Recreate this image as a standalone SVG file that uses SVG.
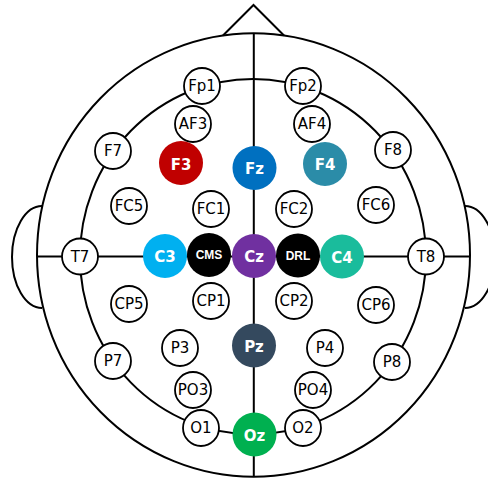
<svg xmlns="http://www.w3.org/2000/svg" width="488" height="482" viewBox="0 0 488 482">
<style>
.ln{fill:none;stroke:#000;stroke-width:2}
.e circle{fill:#fff;stroke:#000;stroke-width:1.8}
.e text{font-family:"DejaVu Sans",sans-serif;font-size:15px;fill:#000;text-anchor:middle}
.c circle{stroke:none}
.c text{font-family:"DejaVu Sans",sans-serif;font-size:15px;font-weight:bold;fill:#fff;text-anchor:middle}
.s text{font-family:"Liberation Sans",Arial,sans-serif;font-size:12px;font-weight:bold;fill:#fff;text-anchor:middle}
</style>
<rect width="488" height="482" fill="#fff"/>
<g id="head">
<ellipse class="ln" cx="253.5" cy="255" rx="216.5" ry="221.7"/>
<polyline class="ln" points="223,35.5 253.5,5 284,35.5"/>
<path class="ln" d="M42,206 A30,51 0 0 0 42,308"/>
<path class="ln" d="M465,206 A30,51 0 0 1 465,308"/>
</g>
<g id="connectors">
<ellipse class="ln" cx="253" cy="256.7" rx="173" ry="177.7"/>
<line class="ln" x1="253.8" y1="33.3" x2="253.8" y2="476.7"/>
<line class="ln" x1="37" y1="256.5" x2="470" y2="256.5"/>
</g>
<g class="e">
<g id="Fp1"><circle cx="202" cy="86" r="18"/><text x="202" y="91.3">Fp1</text></g>
<g id="Fp2"><circle cx="303" cy="86" r="18"/><text x="303" y="91.3">Fp2</text></g>
<g id="AF3"><circle cx="193" cy="124" r="18"/><text x="193" y="129.3">AF3</text></g>
<g id="AF4"><circle cx="312" cy="124" r="18"/><text x="312" y="129.3">AF4</text></g>
<g id="F7"><circle cx="113" cy="151" r="18"/><text x="113" y="156.3">F7</text></g>
<g id="F8"><circle cx="393" cy="150" r="18"/><text x="393" y="155.3">F8</text></g>
<g id="FC5"><circle cx="129" cy="206" r="18"/><text x="129" y="211.3">FC5</text></g>
<g id="FC1"><circle cx="211" cy="209" r="18"/><text x="211" y="214.3">FC1</text></g>
<g id="FC2"><circle cx="294" cy="209" r="18"/><text x="294" y="214.3">FC2</text></g>
<g id="FC6"><circle cx="376" cy="205" r="18"/><text x="376" y="210.3">FC6</text></g>
<g id="T7"><circle cx="80" cy="256.5" r="18"/><text x="80" y="261.8">T7</text></g>
<g id="T8"><circle cx="426" cy="256.5" r="18"/><text x="426" y="261.8">T8</text></g>
<g id="CP5"><circle cx="129" cy="304" r="18"/><text x="129" y="309.3">CP5</text></g>
<g id="CP1"><circle cx="211" cy="301" r="18"/><text x="211" y="306.3">CP1</text></g>
<g id="CP2"><circle cx="294" cy="301" r="18"/><text x="294" y="306.3">CP2</text></g>
<g id="CP6"><circle cx="376" cy="305" r="18"/><text x="376" y="310.3">CP6</text></g>
<g id="P7"><circle cx="113" cy="361" r="18"/><text x="113" y="366.3">P7</text></g>
<g id="P3"><circle cx="180" cy="348" r="18"/><text x="180" y="353.3">P3</text></g>
<g id="P4"><circle cx="325" cy="348" r="18"/><text x="325" y="353.3">P4</text></g>
<g id="P8"><circle cx="392" cy="362" r="18"/><text x="392" y="367.3">P8</text></g>
<g id="PO3"><circle cx="193" cy="390" r="18"/><text x="193" y="395.3">PO3</text></g>
<g id="PO4"><circle cx="313" cy="390" r="18"/><text x="313" y="395.3">PO4</text></g>
<g id="O1"><circle cx="201" cy="428" r="18"/><text x="201" y="433.3">O1</text></g>
<g id="O2"><circle cx="303" cy="428" r="18"/><text x="303" y="433.3">O2</text></g>
</g>
<g class="c">
<g id="F3"><circle cx="181" cy="163" r="22" fill="#C00000"/><text x="181" y="169.5">F3</text></g>
<g id="Fz"><circle cx="254.5" cy="168" r="22" fill="#0070C0"/><text x="254.5" y="174">Fz</text></g>
<g id="F4"><circle cx="325" cy="164" r="22" fill="#2B8CA8"/><text x="325" y="170">F4</text></g>
<g id="C3"><circle cx="165" cy="256" r="22" fill="#00B0F0"/><text x="165" y="262">C3</text></g>
<g id="Cz"><circle cx="254" cy="256" r="22" fill="#7030A0"/><text x="254" y="262">Cz</text></g>
<g id="C4"><circle cx="342" cy="256.5" r="22" fill="#1ABC9C"/><text x="342" y="262.5">C4</text></g>
<g id="Pz"><circle cx="254" cy="345.5" r="22" fill="#34495E"/><text x="254" y="351.5">Pz</text></g>
<g id="Oz"><circle cx="254.5" cy="434.5" r="22" fill="#00B050"/><text x="254.5" y="440.5">Oz</text></g>
</g>
<g class="s">
<g id="CMS"><circle cx="209" cy="255" r="22" fill="#000"/><text x="209" y="259.3">CMS</text></g>
<g id="DRL"><circle cx="298" cy="255.5" r="22" fill="#000"/><text x="298" y="259.8">DRL</text></g>
</g>
</svg>
